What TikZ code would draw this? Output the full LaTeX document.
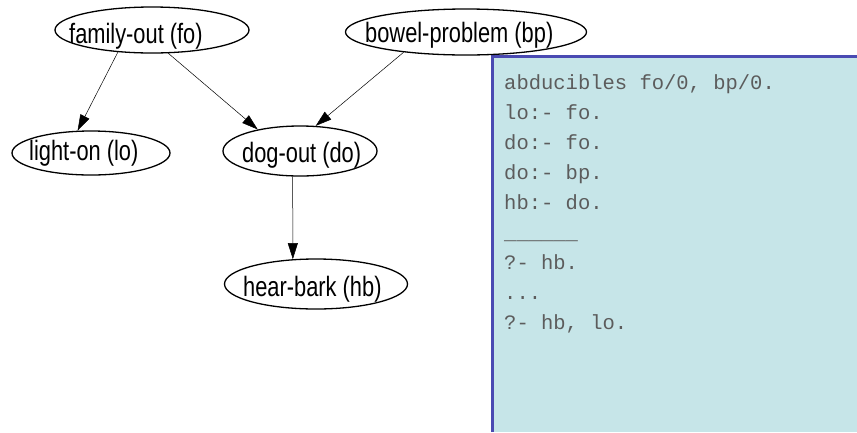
\documentclass[tikz,border=0pt]{standalone}
\usepackage{fontspec}
\usepackage{tikz}
\usetikzlibrary{arrows.meta}
\usetikzlibrary{shapes.geometric}
\usetikzlibrary{calc,positioning}

\newfontfamily\graphfont[FakeStretch=0.78]{Liberation Sans}
\newfontfamily\codefont{Liberation Mono}

\definecolor{panelfill}{HTML}{C6E5E8}
\definecolor{panelrule}{HTML}{4A4AB2}
\definecolor{codegray}{HTML}{5C5C5C}

\tikzset{
    fact/.style = {ellipse, draw = black, line width = 1.3pt, inner sep = 0pt},
    factname/.style = {anchor = base west, inner sep = 0pt,
                       font = \graphfont\fontsize{28}{30}\selectfont},
    cause/.style = {-{Triangle[length=16pt, width=10pt]}, line width = 0.5pt},
    codeline/.style = {anchor = base west, inner sep = 0pt, text = codegray,
                       font = \codefont\fontsize{20.5}{30}\selectfont}
}

\begin{document}
\begin{tikzpicture}[x=1pt, y=-1pt]
    \useasboundingbox (0,0) rectangle (857,432);

    % program panel
    \fill[panelfill] (491,55) rectangle (857,432);
    \draw[panelrule, line width = 3pt] (492.5,432) -- (492.5,56.5) -- (857,56.5);

    \node[codeline] (abd) at (504,89) {abducibles fo/0, bp/0.};
    \node[codeline] (rlo) at (504,119) {lo:- fo.};
    \node[codeline] (rdofo) at (504,149) {do:- fo.};
    \node[codeline] (rdobp) at (504,179) {do:- bp.};
    \node[codeline] (rhb) at (504,209) {hb:- do.};
    \node[codeline] (sep) at (504,239) {\_\_\_\_\_\_};
    \node[codeline] (q1) at (504,269) {?- hb.};
    \node[codeline] (dots) at (504,299) {...};
    \node[codeline] (q2) at (504,329) {?- hb, lo.};

    % belief network
    \node[fact, minimum width = 194pt, minimum height = 46pt] (fo) at (152,30) {};
    \node[fact, minimum width = 241pt, minimum height = 46pt] (bp) at (466,32) {};
    \node[fact, minimum width = 158pt, minimum height = 44pt] (lo) at (91,153) {};
    \node[fact, minimum width = 154pt, minimum height = 50pt] (do) at (300,151) {};
    \node[fact, minimum width = 183pt, minimum height = 50pt] (hb) at (316,284) {};

    \node[factname] (fo text) at (69,43) {family-out (fo)};
    \node[factname] (bp text) at (365,42) {bowel-problem (bp)};
    \node[factname] (lo text) at (29,160) {light-on (lo)};
    \node[factname] (do text) at (242,162) {dog-out (do)};
    \node[factname] (hb text) at (243,296) {hear-bark (hb)};

    \draw[cause] (fo.213) -- (lo.121);
    \draw[cause] (fo.305) -- (do.153);
    \draw[cause] (bp.198) -- (do.58);
    \draw[cause] (do.254) -- (hb.133);

\end{tikzpicture}
\end{document}
